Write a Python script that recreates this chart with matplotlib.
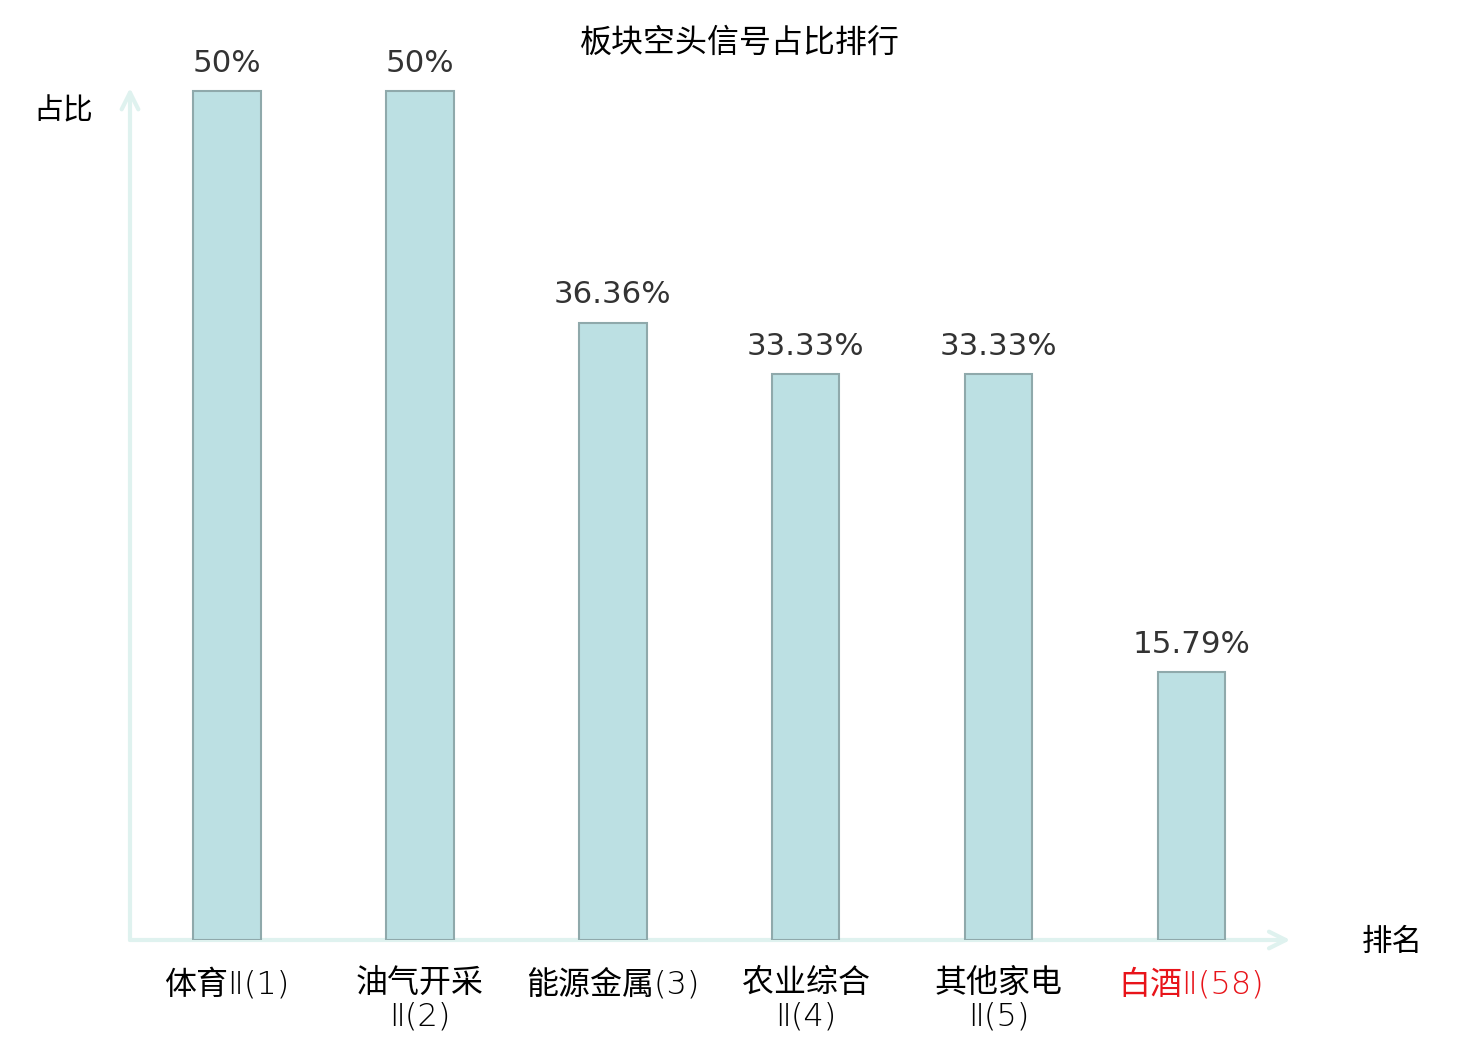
import numpy as np
import matplotlib
matplotlib.use('Agg')
import matplotlib.pyplot as plt

plt.rcParams['font.family'] = ['Noto Sans CJK SC', 'DejaVu Sans']

# data
sectors = ['体育Ⅱ(1)', '油气开采\nⅡ(2)', '能源金属(3)', '农业综合\nⅡ(4)', '其他家电\nⅡ(5)', '白酒Ⅱ(58)']
ratios = [50, 50, 36.36, 33.33, 33.33, 15.79]
ratio_labels = ['50%', '50%', '36.36%', '33.33%', '33.33%', '15.79%']
highlight = '白酒Ⅱ(58)'

axis_col = '#dff2ef'
bar_col = '#bce0e3'
edge_col = '#8fa9ab'

fig = plt.figure(figsize=(14.8, 10.4), dpi=100)
ax = fig.add_axes([130/1480, 100/1040, 1158/1480, 852/1040])

x = np.arange(len(sectors))
ax.bar(x, ratios, width=0.35, color=bar_col, edgecolor=edge_col, linewidth=1.5, zorder=2)

for xi, v, lab in zip(x, ratios, ratio_labels):
    ax.annotate(lab, (xi, v), xytext=(0, 9.5), textcoords='offset points',
                ha='center', va='bottom', fontsize=22.2, color='#333333',
                fontfamily=['DejaVu Sans'])

ax.set_xlim(-0.503, 5.5)
ax.set_ylim(0, 50.18)
for s in ax.spines.values():
    s.set_visible(False)
ax.set_yticks([])
ax.set_xticks(x)
ax.set_xticklabels(sectors, fontsize=23, linespacing=1.13)
ax.tick_params(axis='x', length=0, pad=20)
for t in ax.get_xticklabels():
    t.set_fontfamily(['DejaVu Sans', 'Noto Sans CJK SC'])
    t.set_fontweight('light')
    t.set_fontsize(23)
    if t.get_text() == highlight:
        t.set_color('#e8141a')

# axes arrows
ax.annotate('', xy=(1.002, 0), xytext=(0, 0), xycoords='axes fraction',
            arrowprops=dict(arrowstyle='->', color=axis_col, lw=3,
                            mutation_scale=30, shrinkA=0, shrinkB=0), zorder=1)
ax.annotate('', xy=(0, 1.0), xytext=(0, 0), xycoords='axes fraction',
            arrowprops=dict(arrowstyle='->', color=axis_col, lw=3,
                            mutation_scale=30, shrinkA=0, shrinkB=0), zorder=1)

fig.text(63/1480, 1 - 111/1040, '占比', fontsize=21.5, ha='center', va='center')
fig.text(1392/1480, 1 - 942/1040, '排名', fontsize=22, ha='center', va='center')
fig.text(740/1480, 1 - 43/1040, '板块空头信号占比排行', fontsize=23, ha='center', va='center')

fig.savefig('out.png', dpi=100)
